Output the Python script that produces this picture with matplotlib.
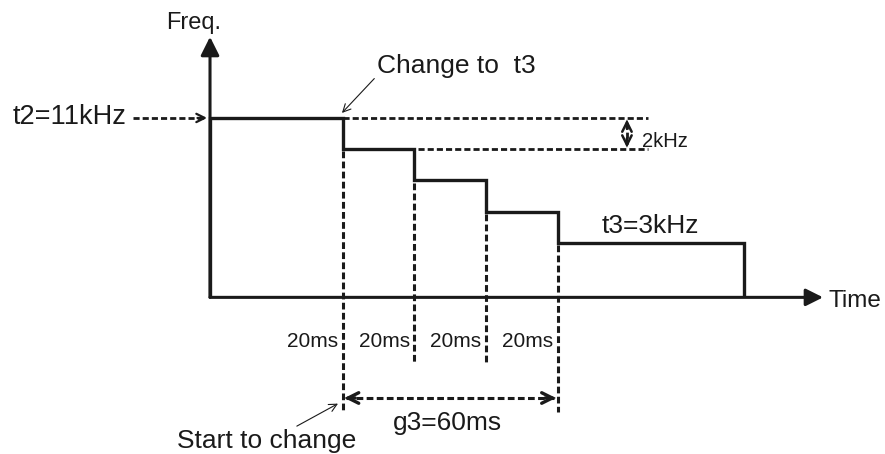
import numpy as np
import matplotlib
matplotlib.use("Agg")
from matplotlib import pyplot as plt

plt.rcParams['font.family'] = ['Liberation Sans', 'DejaVu Sans']

# data: time in ms, frequency in kHz
step_edges = [0, 37, 57, 77, 97, 149]      # ms
step_freqs = [11, 9, 7, 5, 3]              # kHz
step_labels = ["20ms", "20ms", "20ms", "20ms"]
f_start = 11
f_end = 3
f_step = 2
base = -0.5          # where the time axis sits
t_axis_end = 171
f_axis_end = 16.2

ink = '#1a1a1a'
dash = (0, (2.2, 1.1))

fig = plt.figure(figsize=(8.85, 4.54), dpi=100)
ax = fig.add_axes([0, 0, 1, 1])
ax.set_xlim(-58.58, 188.28)
ax.set_ylim(-10.54, 18.56)
ax.axis('off')


def head(tip, tail, lw=1.8, ms=16, style='->'):
    ax.annotate('', xy=tip, xytext=tail,
                arrowprops=dict(arrowstyle=style, lw=lw, color=ink,
                                mutation_scale=ms, shrinkA=0, shrinkB=0,
                                joinstyle='miter'))


# axes with filled heads
ax.annotate('', xy=(0, f_axis_end), xytext=(0, base),
            arrowprops=dict(arrowstyle='-|>', lw=2.2, color=ink,
                            mutation_scale=28, shrinkA=0, shrinkB=0))
ax.annotate('', xy=(t_axis_end, base), xytext=(0, base),
            arrowprops=dict(arrowstyle='-|>', lw=2.2, color=ink,
                            mutation_scale=26, shrinkA=0, shrinkB=0))

# staircase frequency profile
ax.stairs(step_freqs, step_edges, baseline=base, color=ink, lw=2.4,
          joinstyle='miter')

# dashed reference levels
ax.plot([step_edges[1], 122.2], [f_start, f_start], color=ink, lw=2.0, ls=dash)
ax.plot([58, 122.2], [f_start - f_step, f_start - f_step], color=ink, lw=2.0, ls=dash)

# 2 kHz marker
t_mark = 116.3
ax.plot([t_mark, t_mark], [f_start - 0.3, f_start - f_step + 0.3], color=ink, lw=2.0, ls=dash)
head((t_mark, f_start - 0.1), (t_mark, f_start - 0.7), lw=1.8, ms=17)
head((t_mark, f_start - f_step + 0.1), (t_mark, f_start - f_step + 0.7), lw=1.8, ms=17)
ax.text(120.5, 9.14, "2kHz", fontsize=14.5, color=ink, va='baseline', ha='left')

# vertical dashed guides
low_long = -7.85
low_short = -4.64
for i, t in enumerate(step_edges[1:5]):
    bottom = low_long if i in (0, 3) else low_short
    ax.plot([t, t], [step_freqs[i + 1] - 0.15, bottom], color=ink, lw=2.2, ls=dash)
    ax.text(t - 1.3, -3.68, step_labels[i], fontsize=15, color=ink,
            ha='right', va='baseline')

# g3 span arrow
g_y = -6.95
ax.plot([step_edges[1] + 1.0, step_edges[4] - 1.0], [g_y, g_y], color=ink, lw=2.2, ls=dash)
head((step_edges[1] + 0.5, g_y), (step_edges[1] + 3.5, g_y), lw=2.4, ms=19)
head((step_edges[4] - 0.5, g_y), (step_edges[4] - 3.5, g_y), lw=2.4, ms=19)
ax.text(51, -9.0, "g3=60ms", fontsize=19, color=ink, va='baseline', ha='left')

# t2 input arrow
ax.plot([-21.5, -1.5], [f_start, f_start], color=ink, lw=2.0, ls=dash)
head((-0.8, f_start), (-3.5, f_start), lw=1.6, ms=15)
ax.text(-54.95, 10.62, "t2=11kHz", fontsize=19.5, color=ink, va='baseline', ha='left')

# labels
ax.text(-4.46, 16.7, "Freq.", fontsize=17, color=ink, ha='center', va='baseline')
ax.text(172.4, -1.12, "Time", fontsize=17.5, color=ink, ha='left', va='baseline')
ax.text(109.3, 3.63, "t3=3kHz", fontsize=19, color=ink, ha='left', va='baseline')

ax.annotate("Change to  t3", xy=(36.8, 11.32), xytext=(46.6, 13.88),
            fontsize=19, color=ink, ha='left', va='baseline',
            arrowprops=dict(arrowstyle='->', lw=0.8, color=ink,
                            shrinkA=0, shrinkB=0, mutation_scale=14,
                            relpos=(0, 0.1)))
ax.annotate("Start to change", xy=(35.7, -7.31), xytext=(-9.2, -10.15),
            fontsize=19, color=ink, ha='left', va='baseline',
            arrowprops=dict(arrowstyle='->', lw=0.8, color=ink,
                            shrinkA=0, shrinkB=0, mutation_scale=14,
                            relpos=(0.64, 1.0)))

fig.savefig("out.png", dpi=100)
